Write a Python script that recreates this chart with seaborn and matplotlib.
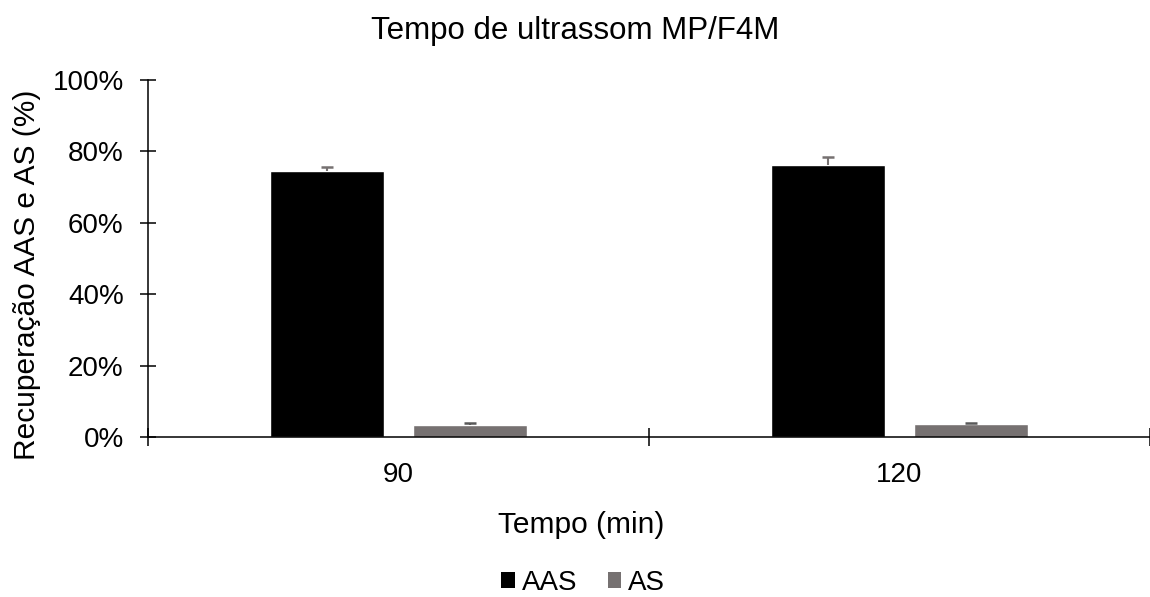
import matplotlib
matplotlib.use("Agg")
import matplotlib.pyplot as plt
import seaborn as sns
import pandas as pd
import numpy as np
from matplotlib.ticker import PercentFormatter, FixedLocator
from matplotlib.patches import Patch

categories = ["90", "120"]
series = ["AAS", "AS"]
aas_values = [0.745, 0.762]
as_values = [0.034, 0.036]
aas_err = [0.011, 0.022]
as_err = [0.004, 0.003]
colors = {"AAS": "#000000", "AS": "#767171"}
err_colors = {"AAS": "#767171", "AS": "#595959"}

sns.set_theme(style="white")
plt.rcParams["font.family"] = ["Liberation Sans", "DejaVu Sans"]
plt.rcParams["text.color"] = "black"

df = pd.DataFrame({
    "Tempo": categories * 2,
    "Serie": ["AAS"] * len(categories) + ["AS"] * len(categories),
    "Valor": aas_values + as_values,
    "Erro": aas_err + as_err,
})

fig = plt.figure(figsize=(11.5, 5.97), dpi=100)
ax = fig.add_axes([0.1287, 0.268, 0.8713, 0.598])

sns.barplot(data=df, x="Tempo", y="Valor", hue="Serie", order=categories,
            hue_order=series, palette=colors, width=0.568, gap=0.2,
            errorbar=None, ax=ax, legend=False, saturation=1)

# error bars (upper only, single cap)
cap_half = 0.012
for container, s in zip(ax.containers, series):
    sub = df[df["Serie"] == s].set_index("Tempo").loc[categories]
    xs = np.array([p.get_x() + p.get_width() / 2 for p in container.patches])
    ys = np.array([p.get_height() for p in container.patches])
    tops = ys + sub["Erro"].values
    ax.vlines(xs, ys, tops, colors=err_colors[s], linewidth=1.5, zorder=3)
    ax.hlines(tops, xs - cap_half, xs + cap_half, colors=err_colors[s],
              linewidth=1.8, zorder=3)

ax.set_xlim(-0.5, len(categories) - 0.5)
ax.set_ylim(0, 1.0)
ax.yaxis.set_major_formatter(PercentFormatter(1.0, decimals=0))
ax.set_yticks(np.arange(0, 1.01, 0.2))
ax.tick_params(axis="y", direction="inout", length=11, width=1.1, colors="black",
               labelsize=20, pad=12, left=True)
ax.tick_params(axis="x", which="major", length=0, labelsize=20, pad=18,
               labelcolor="black")
ax.xaxis.set_minor_locator(FixedLocator(np.arange(-0.5, len(categories), 1.0)))
ax.tick_params(axis="x", which="minor", direction="inout", length=13, width=1.1,
               color="black", bottom=True)

for sp in ["top", "right"]:
    ax.spines[sp].set_visible(False)
for sp in ["left", "bottom"]:
    ax.spines[sp].set_color("black")
    ax.spines[sp].set_linewidth(1.1)

ax.set_xlabel("")
ax.set_ylabel("")
fig.text(27.5 / 1150, 1 - 275 / 597, "Recuperação AAS e AS (%)", rotation=90,
         ha="center", va="center", fontsize=21.5, color="black")
fig.text(0.5, 1 - 31 / 597, "Tempo de ultrassom MP/F4M", ha="center", va="center",
         fontsize=22.5, color="black")
fig.text(581 / 1150, 1 - 525 / 597, "Tempo (min)", ha="center", va="center",
         fontsize=21.5, color="black")

handles = [Patch(facecolor=colors[s], edgecolor="none") for s in series]
fig.legend(handles, series, loc="center", bbox_to_anchor=(583 / 1150, 1 - 583 / 597),
           ncol=2, frameon=False, fontsize=20, handlelength=0.5, handleheight=0.5,
           handletextpad=0.25, columnspacing=1.1, borderpad=0)

fig.savefig("out.png", dpi=100)
